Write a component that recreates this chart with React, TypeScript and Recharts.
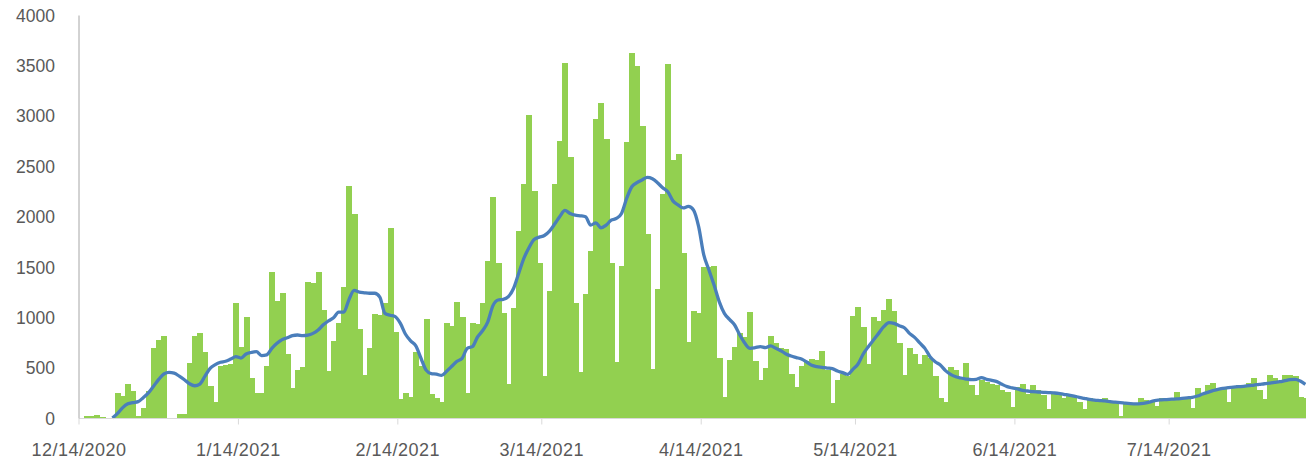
import { ComposedChart, Bar, Line, XAxis, YAxis } from 'recharts';

// daily values, first day is 12/14/2020
const DAILY = [
  0, 25, 25, 35, 15, 0, 0, 250, 223, 339, 273, 20, 101, 273, 696, 779, 822, 0, 0, 41,
  41, 548, 819, 852, 663, 326, 167, 521, 530, 540, 1150, 713, 1011, 405, 256, 256, 518, 1453, 1168, 1242,
  638, 299, 481, 514, 1358, 1342, 1455, 1077, 474, 769, 944, 1308, 2308, 2026, 890, 435, 697, 1037, 1024, 1150,
  1894, 855, 192, 250, 217, 663, 518, 984, 240, 200, 167, 944, 921, 1159, 1011, 256, 950, 940, 1150, 1560,
  2201, 1540, 1044, 339, 1099, 1863, 2327, 3011, 2258, 1540, 422, 1267, 2330, 2757, 3532, 2597, 1142, 458, 1234, 1661,
  2968, 3133, 2771, 1540, 557, 1512, 2746, 3630, 3499, 2903, 1836, 496, 1290, 2233, 3518, 2565, 2624, 1639, 762, 1067,
  1044, 1500, 1500, 1515, 597, 217, 581, 706, 845, 811, 1060, 571, 382, 498, 822, 746, 697, 689, 443, 310,
  520, 571, 587, 581, 670, 481, 150, 382, 438, 420, 1021, 1109, 911, 538, 1011, 967, 1077, 1186, 1070, 746,
  432, 697, 637, 540, 630, 597, 425, 200, 167, 508, 481, 409, 548, 332, 233, 382, 366, 339, 330, 283,
  266, 110, 316, 339, 243, 332, 283, 233, 94, 260, 255, 200, 245, 235, 167, 94, 205, 195, 185, 200,
  172, 168, 25, 160, 150, 148, 200, 184, 165, 127, 207, 190, 184, 266, 200, 190, 108, 299, 250, 332,
  349, 306, 290, 167, 326, 332, 330, 356, 405, 283, 190, 432, 398, 359, 432, 432, 422, 217, 200,
];

// 7-day average line
const AVERAGE = [
  null, null, null, null, null, null, 5, 51, 108, 146, 158, 167, 207, 254, 320, 388, 442, 457, 450, 420,
  385, 345, 325, 342, 420, 498, 535, 558, 568, 590, 614, 600, 640, 655, 663, 625, 632, 696, 746, 783,
  802, 822, 829, 822, 827, 845, 878, 930, 968, 1000, 1055, 1057, 1180, 1272, 1255, 1248, 1243, 1243, 1205, 1044,
  1025, 1011, 944, 836, 770, 720, 598, 480, 445, 440, 428, 470, 518, 568, 597, 697, 713, 809, 873, 960,
  1120, 1176, 1182, 1209, 1290, 1439, 1588, 1694, 1777, 1800, 1816, 1860, 1930, 2005, 2065, 2035, 2018, 2012, 2002, 1919,
  1942, 1893, 1919, 1969, 1986, 2035, 2184, 2300, 2340, 2367, 2393, 2380, 2340, 2290, 2250, 2160, 2120, 2090, 2105, 2070,
  1904, 1623, 1474, 1325, 1160, 1044, 984, 928, 829, 746, 697, 703, 713, 703, 720, 697, 673, 640, 620, 605,
  590, 561, 528, 514, 508, 501, 495, 471, 455, 438, 488, 541, 640, 713, 779, 845, 911, 951, 944, 921,
  901, 845, 805, 750, 696, 614, 564, 531, 475, 438, 415, 402, 392, 385, 389, 405, 389, 379, 366, 339,
  316, 303, 293, 279, 273, 266, 263, 260, 257, 254, 250, 240, 232, 222, 210, 200, 190, 182, 178, 174,
  168, 162, 158, 152, 148, 146, 148, 155, 168, 180, 185, 188, 192, 195, 200, 205, 210, 223, 243, 260,
  276, 290, 299, 306, 312, 316, 319, 326, 332, 339, 345, 352, 359, 365, 375, 385, 389, 372, 339,
];

const X_TICKS = ['12/14/2020', '1/14/2021', '2/14/2021', '3/14/2021', '4/14/2021', '5/14/2021', '6/14/2021', '7/14/2021'];
const Y_TICKS = [0, 500, 1000, 1500, 2000, 2500, 3000, 3500, 4000];

const fmt = (d: Date) => `${d.getMonth() + 1}/${d.getDate()}/${d.getFullYear()}`;

const data = DAILY.map((v, i) => ({
  date: fmt(new Date(2020, 11, 14 + i)),
  daily: v,
  avg: AVERAGE[i],
}));

const WIDTH = 1308;
const Y_AXIS_W = 79;
const BAND = (WIDTH - Y_AXIS_W) / DAILY.length;
const FONT = '"Liberation Sans", Arial, sans-serif';
const GREEN = '#92d050';

function DateTick({ x, y, payload }: any) {
  const left = x - BAND / 2;
  return (
    <g>
      <line x1={left} x2={left} y1={y} y2={y + 6} stroke="#d9d9d9" />
      <text
        x={left}
        y={y + 31}
        dy="0.355em"
        textAnchor="middle"
        fill="#595959"
        fontSize={18}
        letterSpacing={0.5}
        fontFamily={FONT}
      >
        {payload.value}
      </text>
    </g>
  );
}

// bars touch in the original: snap to pixels and overlap by one so no seams show
function SolidBar({ x, y, width, height }: any) {
  if (!height || height <= 0) return null;
  return (
    <rect x={x} y={y} width={width + 1} height={height} fill={GREEN} shapeRendering="crispEdges" />
  );
}

export default function App() {
  return (
    <div style={{ position: 'absolute', left: 0, top: 0, width: 1306, height: 466, overflow: 'hidden', background: '#fff' }}>
      <ComposedChart
        width={WIDTH}
        height={466}
        data={data}
        margin={{ top: 15.5, right: 0, bottom: 0, left: 0 }}
        barCategoryGap={0}
        barGap={0}
      >
        <XAxis
          dataKey="date"
          ticks={X_TICKS}
          interval={0}
          height={47.5}
          tickLine={false}
          tickSize={0}
          tickMargin={0}
          axisLine={{ stroke: '#d9d9d9' }}
          tick={<DateTick />}
        />
        <YAxis
          width={Y_AXIS_W}
          domain={[0, 4000]}
          ticks={Y_TICKS}
          tickLine={false}
          tickSize={0}
          tickMargin={24}
          axisLine={{ stroke: '#a6a6a6' }}
          tick={{ fill: '#595959', fontSize: 17.5, fontFamily: FONT }}
        />
        <Bar dataKey="daily" fill={GREEN} shape={<SolidBar />} isAnimationActive={false} />
        <Line
          dataKey="avg"
          type="monotone"
          stroke="#4a7ebb"
          strokeWidth={3.3}
          dot={false}
          isAnimationActive={false}
        />
      </ComposedChart>
    </div>
  );
}
